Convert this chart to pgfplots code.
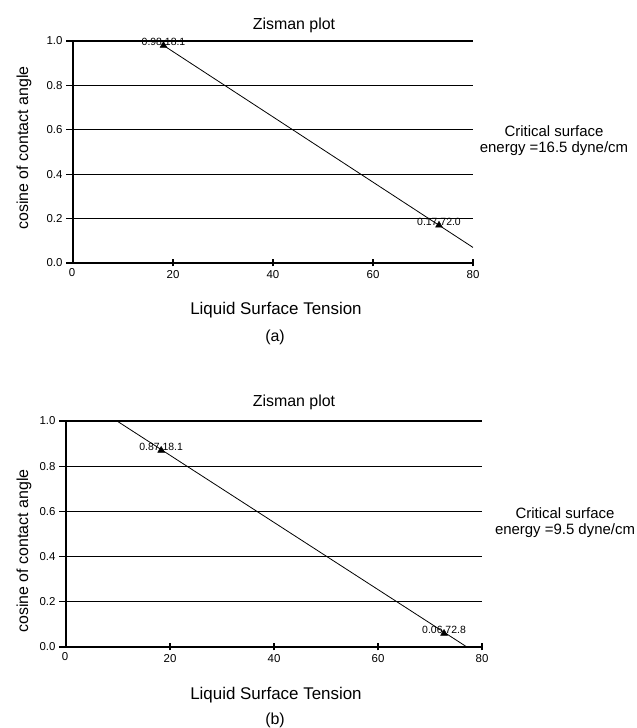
\documentclass[border=0pt]{standalone}
\usepackage{fontspec}
\setmainfont{Liberation Sans}
\usepackage{pgfplots}
\pgfplotsset{compat=1.18}
\tikzset{plab/.style={font=\fontsize{10.5}{11}\selectfont}}
\pgfplotsset{
  zis/.style={
    scale only axis,
    anchor=south west,
    xmin=0, xmax=80, ymin=0, ymax=1,
    axis x line*=bottom, axis y line*=left,
    axis line style={line width=1.4bp, -},
    xtick={20,40,60,80},
    ytick={0,0.2,0.4,0.6,0.8,1.0},
    /pgf/number format/assume math mode=true,
    yticklabel style={/pgf/number format/.cd, fixed, fixed zerofill, precision=1},
    ticklabel style={font=\fontsize{11.5}{12}\selectfont},
    xtick align=center, ytick align=outside,
    major tick length=7bp,
    every tick/.style={black, line width=1.2bp},
    ymajorgrids,
    grid style={black, line width=1.1bp},
    clip=false,
  },
}
\begin{document}
\begin{tikzpicture}[x=1bp,y=1bp]
\useasboundingbox (0,0) rectangle (637,728);
% ---------- (a) ----------
\begin{axis}[zis, at={(73bp,465bp)}, width=400bp, height=222bp]
\addplot[black, line width=0.8bp] coordinates {(18.1,0.98) (80,0.07)};
\addplot[black, only marks, mark=triangle*, mark size=4bp,
  nodes near coords, point meta=explicit symbolic,
  every node near coord/.append style={plab, anchor=south, yshift=-5bp}]
  table[meta=lab] {
x y lab
18.1 0.98 {0.98,18.1}
73.2 0.17 {0.17,72.0}
};
\node[font=\fontsize{11.5}{12}\selectfont] at (axis cs:0,0) [xshift=-1bp, yshift=-10bp] {0};
\end{axis}
\node[font=\fontsize{16}{18}\selectfont] at (294,703) {Zisman plot};
\node[font=\fontsize{16}{18}\selectfont, rotate=90] at (24,580) {cosine of contact angle};
\node[font=\fontsize{17}{19}\selectfont] at (276,418) {Liquid Surface Tension};
\node[font=\fontsize{16}{18}\selectfont] at (275,391) {(a)};
\node[font=\fontsize{15}{16}\selectfont, align=center] at (554,587) {Critical surface\\energy =16.5 dyne/cm};
% ---------- (b) ----------
\begin{axis}[zis, at={(66bp,81bp)}, width=416bp, height=226bp]
\addplot[black, line width=0.8bp] coordinates {(9.8,1.0) (77.1,0)};
\addplot[black, only marks, mark=triangle*, mark size=4bp,
  nodes near coords, point meta=explicit symbolic,
  every node near coord/.append style={plab, anchor=south, yshift=-5bp}]
  table[meta=lab] {
x y lab
18.3 0.87 {0.87,18.1}
72.7 0.06 {0.06,72.8}
};
\node[font=\fontsize{11.5}{12}\selectfont] at (axis cs:0,0) [xshift=-1bp, yshift=-10bp] {0};
\end{axis}
\node[font=\fontsize{16}{18}\selectfont] at (294,326) {Zisman plot};
\node[font=\fontsize{16}{18}\selectfont, rotate=90] at (24,177) {cosine of contact angle};
\node[font=\fontsize{17}{19}\selectfont] at (276,33) {Liquid Surface Tension};
\node[font=\fontsize{16}{18}\selectfont] at (275,8) {(b)};
\node[font=\fontsize{15}{16}\selectfont, align=center] at (565,205) {Critical surface\\energy =9.5 dyne/cm};
\end{tikzpicture}
\end{document}
